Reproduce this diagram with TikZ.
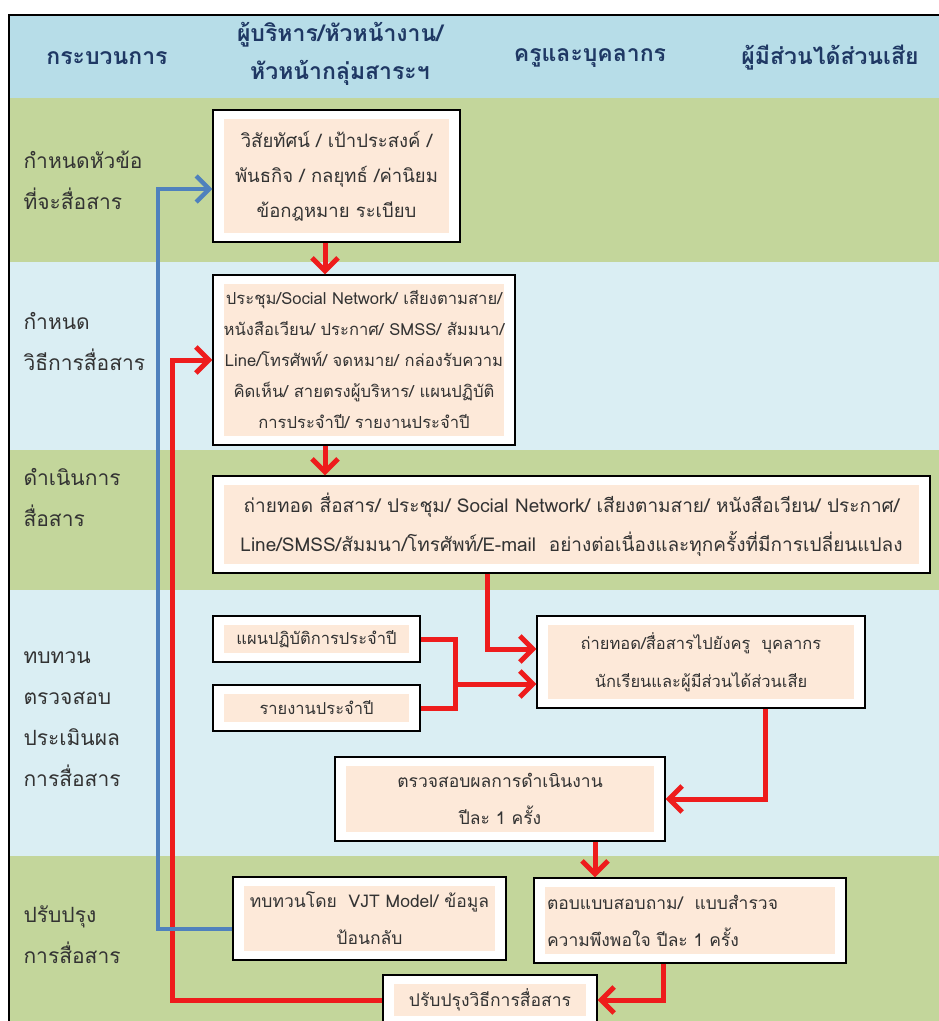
\documentclass[tikz,border=0pt]{standalone}
\usepackage{fontspec}
\setmainfont[Script=Thai]{Loma}
\usepackage{xcolor}
\usepackage{tikz}
\usetikzlibrary{arrows.meta}

\definecolor{headblue}{HTML}{B7DDE8}
\definecolor{rowgreen}{HTML}{C3D69B}
\definecolor{rowblue}{HTML}{DAEEF3}
\definecolor{peach}{HTML}{FDE9D9}
\definecolor{headtext}{HTML}{1F3864}
\definecolor{flowred}{HTML}{EE1C1C}
\definecolor{flowblue}{HTML}{4F81BD}

\begin{document}
\begin{tikzpicture}[
    x=1pt, y=-1pt,
    box/.style={rectangle, draw=black, line width=1.2, fill=white, align=center, inner sep=0pt,
        font=\fontsize{17.5}{37}\selectfont, text=black!80,
        path picture={\fill[peach] ([shift={(11pt,-9pt)}]path picture bounding box.north west)
            rectangle ([shift={(-11pt,9pt)}]path picture bounding box.south east);}},
    head/.style={font=\bfseries\fontsize{23}{38}\selectfont, text=headtext, align=center},
    stage/.style={anchor=west, align=left, font=\fontsize{21}{41}\selectfont, text=black!80},
    redline/.style={draw=flowred, line width=5},
    redarrow/.style={redline, -{Straight Barb[length=13pt, width=26pt]}},
    bluearrow/.style={draw=flowblue, line width=4.5, -{Straight Barb[length=13pt, width=26pt]}}
]
    \path[use as bounding box, clip] (0,0) rectangle (939,1021);

    % Bands
    \fill[headblue] (9,15) rectangle (939,98);
    \fill[rowgreen] (9,98) rectangle (939,262);
    \fill[rowblue] (9,262) rectangle (939,450);
    \fill[rowgreen] (9,450) rectangle (939,590);
    \fill[rowblue] (9,590) rectangle (939,856);
    \fill[rowgreen] (9,856) rectangle (939,1021);
    \draw[line width=1.5] (939,15) -- (9,15) -- (9,1021);

    % Header
    \node[head] (hprocess) at (107,58) {กระบวนการ};
    \node[head] (hadmin) at (340,54) {ผู้บริหาร/หัวหน้างาน/\\หัวหน้ากลุ่มสาระฯ};
    \node[head] (hstaff) at (590,58) {ครูและบุคลากร};
    \node[head] (hstake) at (830,58) {ผู้มีส่วนได้ส่วนเสีย};

    % Stages
    \node[stage] (s1) at (20,180) {กำหนดหัวข้อ\\ที่จะสื่อสาร};
    \node[stage] (s2) at (20,341) {กำหนด\\วิธีการสื่อสาร};
    \node[stage] (s3) at (20,497) {ดำเนินการ\\สื่อสาร};
    \node[stage] (s4) at (20,719) {ทบทวน\\ตรวจสอบ\\ประเมินผล\\การสื่อสาร};
    \node[stage] (s5) at (20,935) {ปรับปรุง\\การสื่อสาร};

    % Boxes
    \node[box, minimum width=247, minimum height=132, font=\fontsize{18.5}{35}\selectfont] (vision) at (336.5,176)
        {วิสัยทัศน์ / เป้าประสงค์ /\\พันธกิจ / กลยุทธ์ /ค่านิยม\\ข้อกฎหมาย ระเบียบ};
    \node[box, minimum width=302, minimum height=170, font=\fontsize{16.6}{31}\selectfont] (channels) at (364,360)
        {ประชุม/Social Network/ เสียงตามสาย/\\หนังสือเวียน/ ประกาศ/ SMSS/ สัมมนา/\\Line/โทรศัพท์/ จดหมาย/ กล่องรับความ\\คิดเห็น/ สายตรงผู้บริหาร/ แผนปฏิบัติ\\การประจำปี/ รายงานประจำปี};
    \node[box, minimum width=717, minimum height=97, font=\fontsize{19}{39}\selectfont] (transfer) at (571.5,524.5)
        {ถ่ายทอด สื่อสาร/ ประชุม/ Social Network/ เสียงตามสาย/ หนังสือเวียน/ ประกาศ/\\Line/SMSS/สัมมนา/โทรศัพท์/E-mail\ \ อย่างต่อเนื่องและทุกครั้งที่มีการเปลี่ยนแปลง};
    \node[box, minimum width=207, minimum height=46, font=\fontsize{16.5}{37}\selectfont] (plan) at (316.5,639) {แผนปฏิบัติการประจำปี};
    \node[box, minimum width=207, minimum height=46, font=\fontsize{16.5}{37}\selectfont] (report) at (316.5,708) {รายงานประจำปี};
    \node[box, minimum width=328, minimum height=92, font=\fontsize{16.5}{38}\selectfont] (spread) at (701,662)
        {ถ่ายทอด/สื่อสารไปยังครู\ \ บุคลากร\\นักเรียนและผู้มีส่วนได้ส่วนเสีย};
    \node[box, minimum width=330, minimum height=84] (check) at (500,799)
        {ตรวจสอบผลการดำเนินงาน\\ปีละ 1 ครั้ง};
    \node[box, minimum width=273, minimum height=83] (review) at (369.5,918.5)
        {ทบทวนโดย\ \ VJT Model/ ข้อมูล\\ป้อนกลับ};
    \node[box, minimum width=312, minimum height=85, text width=286, align=left] (survey) at (690,920.5)
        {ตอบแบบสอบถาม/\ \ แบบสำรวจ\\ความพึงพอใจ ปีละ 1 ครั้ง};
    \node[box, minimum width=214, minimum height=50] (improve) at (490,1000) {ปรับปรุงวิธีการสื่อสาร};

    % Flow
    \draw[redarrow] (vision.south -| 325,0) -- (channels.north -| 325,0);
    \draw[redarrow] (channels.south -| 325,0) -- (transfer.north -| 325,0);
    \draw[redarrow] (transfer.south -| 487,0) |- (spread.west |- 0,649);
    \coordinate (join) at (455,684);
    \draw[redline] (plan.east) -| (join);
    \draw[redline] (report.east) -| (join);
    \draw[redarrow] (join) -- (spread.west |- join);
    \draw[redarrow] (spread.south -| 765,0) |- (check.east);
    \draw[redarrow] (check.south -| 595,0) -- (survey.north -| 595,0);
    \draw[redarrow] (survey.south -| 663,0) |- (improve.east);

    % Feedback loops
    \draw[redarrow] (improve.west) -| ([xshift=-40]channels.west) -- (channels.west);
    \draw[bluearrow] (review.west |- 0,929) -| (158,189) -- (vision.west |- 0,189);
\end{tikzpicture}
\end{document}
